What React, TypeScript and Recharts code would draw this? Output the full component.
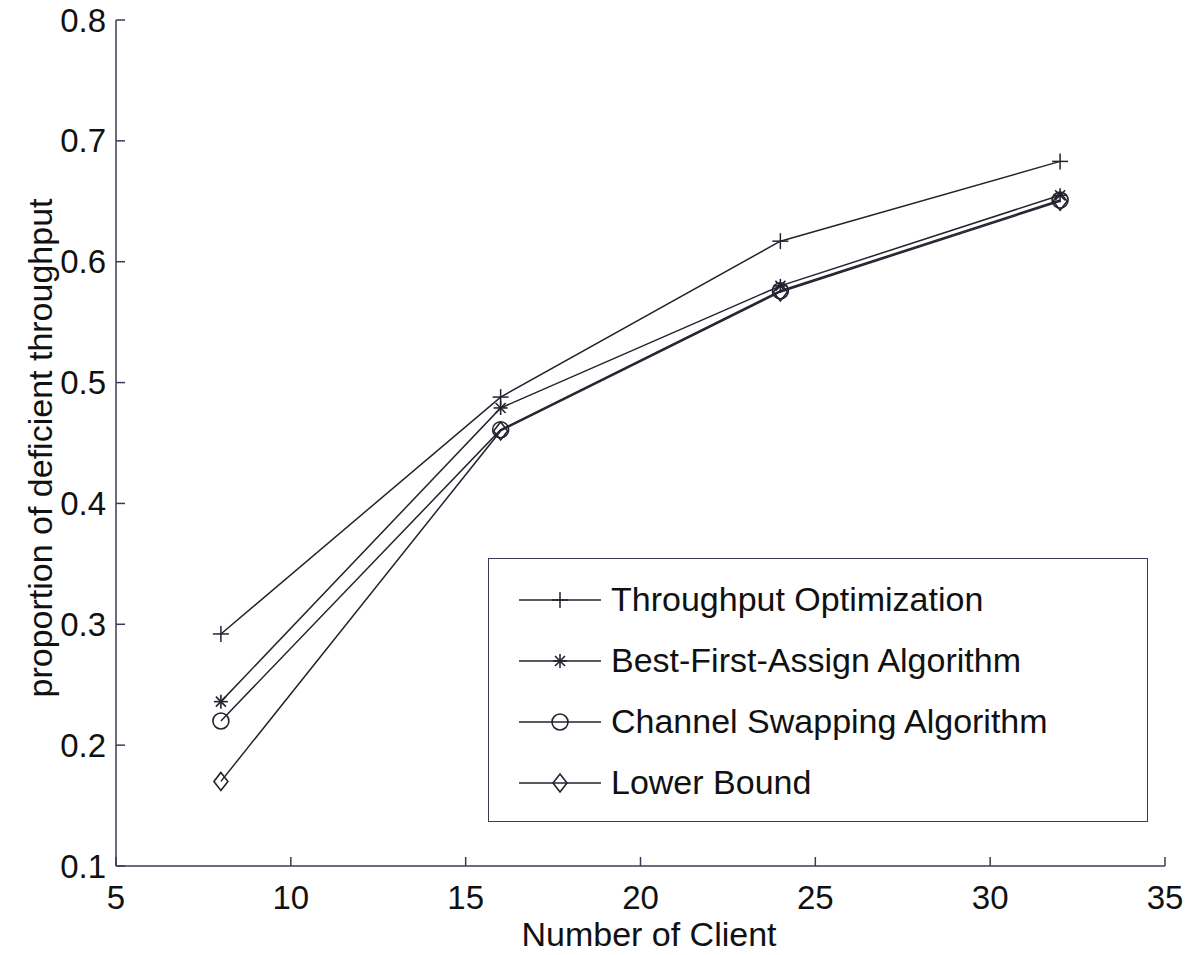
import React from 'react';
import { LineChart, Line, XAxis, YAxis } from 'recharts';

const clients = [8, 16, 24, 32];
const throughputOpt = [0.292, 0.488, 0.617, 0.683];
const bestFirst = [0.236, 0.479, 0.58, 0.655];
const channelSwap = [0.22, 0.461, 0.576, 0.651];
const lowerBound = [0.17, 0.46, 0.575, 0.65];

const xTicks = [5, 10, 15, 20, 25, 30, 35];
const yTicks = [0.1, 0.2, 0.3, 0.4, 0.5, 0.6, 0.7, 0.8];

const seriesNames = [
  'Throughput Optimization',
  'Best-First-Assign Algorithm',
  'Channel Swapping Algorithm',
  'Lower Bound',
];

const data = clients.map((c, i) => ({
  x: c,
  to: throughputOpt[i],
  bfa: bestFirst[i],
  csa: channelSwap[i],
  lb: lowerBound[i],
}));

const INK = '#23232f';
const AXIS = '#3a3a58';
const FONT = '"Liberation Sans", Arial, Helvetica, sans-serif';

const Plus = (cx: number, cy: number, k?: any) => (
  <g key={k} stroke={INK} strokeWidth={1.5}>
    <line x1={cx - 8} x2={cx + 8} y1={cy} y2={cy} />
    <line x1={cx} x2={cx} y1={cy - 8} y2={cy + 8} />
  </g>
);
const Star = (cx: number, cy: number, k?: any) => (
  <g key={k} stroke={INK} strokeWidth={1.6}>
    <line x1={cx - 7} x2={cx + 7} y1={cy} y2={cy} />
    <line x1={cx} x2={cx} y1={cy - 7} y2={cy + 7} />
    <line x1={cx - 5} x2={cx + 5} y1={cy - 5} y2={cy + 5} />
    <line x1={cx - 5} x2={cx + 5} y1={cy + 5} y2={cy - 5} />
  </g>
);
const Circ = (cx: number, cy: number, k?: any) => (
  <circle key={k} cx={cx} cy={cy} r={8} fill="none" stroke={INK} strokeWidth={1.6} />
);
const Diam = (cx: number, cy: number, k?: any) => (
  <polygon
    key={k}
    points={`${cx},${cy - 9} ${cx + 7},${cy} ${cx},${cy + 9} ${cx - 7},${cy}`}
    fill="none"
    stroke={INK}
    strokeWidth={1.6}
  />
);

const markers = [Plus, Star, Circ, Diam];

const mkDot = (fn: any) => (p: any) => fn(p.cx, p.cy, `${p.index}`);

const LeftTick = (p: any) => {
  const { x, y, payload } = p;
  return (
    <g>
      <line x1={x} x2={x + 9} y1={y} y2={y} stroke={AXIS} strokeWidth={1.5} />
      <text x={x - 10} y={y} textAnchor="end" dominantBaseline="central" fontSize={33} fontFamily={FONT} fill="#111">
        {Number(payload.value).toFixed(1)}
      </text>
    </g>
  );
};
const BottomTick = (p: any) => {
  const { x, y, payload } = p;
  return (
    <g>
      <line x1={x} x2={x} y1={y} y2={y - 9} stroke={AXIS} strokeWidth={1.5} />
      <text x={x} y={y + 31} textAnchor="middle" dominantBaseline="central" fontSize={33} fontFamily={FONT} fill="#111">
        {payload.value}
      </text>
    </g>
  );
};
const TopTick = (p: any) => {
  const { x, y } = p;
  return <line x1={x} x2={x} y1={y} y2={y + 9} stroke={AXIS} strokeWidth={1.5} />;
};
const RightTick = (p: any) => {
  const { x, y } = p;
  return <line x1={x} x2={x - 9} y1={y} y2={y} stroke={AXIS} strokeWidth={1.5} />;
};

const LegendBox = () => (
  <div
    style={{
      position: 'absolute',
      left: 488,
      top: 558,
      width: 660,
      height: 264,
      border: `1.5px solid ${AXIS}`,
      background: '#fff',
      boxSizing: 'border-box',
      paddingTop: 10,
    }}
  >
    {seriesNames.map((name, i) => (
      <div key={name} style={{ display: 'flex', alignItems: 'center', height: 61 }}>
        <svg width={122} height={40} style={{ flex: 'none' }}>
          <line x1={30} x2={112} y1={20} y2={20} stroke={INK} strokeWidth={1.5} />
          {markers[i](71, 20)}
        </svg>
        <span style={{ fontFamily: FONT, fontSize: 34, color: '#111', whiteSpace: 'nowrap' }}>{name}</span>
      </div>
    ))}
  </div>
);

export default function App() {
  const keys = ['to', 'bfa', 'csa', 'lb'];
  return (
    <div style={{ position: 'absolute', left: 0, top: 0, width: 1200, height: 955, background: '#fff' }}>
      <LineChart width={1200} height={955} data={data} margin={{ top: 20, right: 35, left: 0, bottom: 0 }}>
        <XAxis
          dataKey="x"
          type="number"
          domain={[5, 35]}
          ticks={xTicks}
          interval={0}
          height={89}
          axisLine={{ stroke: AXIS, strokeWidth: 1.5 }}
          tickLine={false}
          tickSize={0}
          tickMargin={0}
          tick={BottomTick}
          label={{
            content: () => (
              <text x={649} y={934} textAnchor="middle" dominantBaseline="central" fontSize={34} fontFamily={FONT} fill="#111">
                Number of Client
              </text>
            ),
          }}
        />
        <XAxis
          xAxisId="top"
          orientation="top"
          dataKey="x"
          type="number"
          domain={[5, 35]}
          ticks={xTicks}
          interval={0}
          height={0}
          axisLine={{ stroke: AXIS, strokeWidth: 1.5 }}
          tickLine={false}
          tickSize={0}
          tickMargin={0}
          tick={TopTick}
        />
        <YAxis
          type="number"
          domain={[0.1, 0.8]}
          ticks={yTicks}
          interval={0}
          width={116}
          axisLine={{ stroke: AXIS, strokeWidth: 1.5 }}
          tickLine={false}
          tickSize={0}
          tickMargin={0}
          tick={LeftTick}
          label={{
            content: () => (
              <text
                x={40}
                y={448}
                transform="rotate(-90 40 448)"
                textAnchor="middle"
                dominantBaseline="central"
                fontSize={34}
                fontFamily={FONT}
                fill="#111"
              >
                proportion of deficient throughput
              </text>
            ),
          }}
        />
        <YAxis
          yAxisId="right"
          orientation="right"
          type="number"
          domain={[0.1, 0.8]}
          ticks={yTicks}
          interval={0}
          width={0}
          axisLine={{ stroke: AXIS, strokeWidth: 1.5 }}
          tickLine={false}
          tickSize={0}
          tickMargin={0}
          tick={RightTick}
        />
        {keys.map((k, i) => (
          <Line
            key={k}
            dataKey={k}
            name={seriesNames[i]}
            stroke={INK}
            strokeWidth={1.5}
            dot={mkDot(markers[i])}
            activeDot={false}
            isAnimationActive={false}
          />
        ))}
      </LineChart>
      <LegendBox />
    </div>
  );
}
